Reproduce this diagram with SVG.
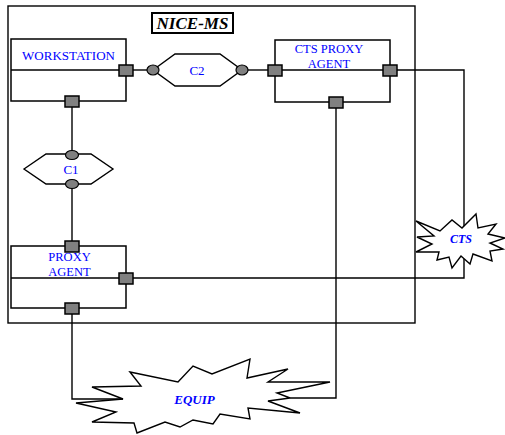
<svg xmlns="http://www.w3.org/2000/svg" width="505" height="435" viewBox="0 0 505 435">
<style>
.frame{fill:none;stroke:#000;stroke-width:1.4}
.box{fill:#fff;stroke:#000;stroke-width:1.5}
.div{stroke:#000;stroke-width:1.4}
.port{fill:#808080;stroke:#000;stroke-width:1.5}
.pin{fill:#808080;stroke:#000;stroke-width:1.2}
.hex{fill:#fff;stroke:#000;stroke-width:1.4}
.star{fill:#fff;stroke:#000;stroke-width:1.4;stroke-linejoin:miter}
.wire{fill:none;stroke:#000;stroke-width:1.4}
.lbl{font-family:"Liberation Serif",serif;font-size:13px;fill:#0000ff;text-anchor:middle}
.lbl2{font-family:"Liberation Serif",serif;font-size:12.5px;fill:#0000ff;text-anchor:middle}
.ital{font-family:"Liberation Serif",serif;font-weight:bold;font-style:italic;fill:#0000ff;text-anchor:middle}
</style>
<rect width="505" height="435" fill="#fff"/>
<g id="nice-ms">
<rect class="frame" x="8" y="6" width="407" height="317"/>
<rect x="152" y="13" width="81" height="20" fill="#fff" stroke="#000" stroke-width="2"/>
<text x="192.5" y="29" font-family="Liberation Serif,serif" font-weight="bold" font-style="italic" font-size="17" text-anchor="middle" fill="#000">NICE-MS</text>
</g>
<g id="equip">
<polygon class="star" points="130,372 178,382 193,366 212,374 250,359 247,378 288,369 268,382 330,382 277,393 290,398 268,401 300,413 248,408 250,419 220,414 213,424 193,420 180,427 165,422 137,433 134,423 92,422 116,412 76,403 123,399 92,387 141,386"/>
<text class="ital" x="194.5" y="404" font-size="13">EQUIP</text>
</g>
<g id="connectors">
<line class="wire" x1="133" y1="70" x2="147" y2="70"/>
<line class="wire" x1="248" y1="70" x2="268" y2="70"/>
<line class="wire" x1="72" y1="107" x2="72" y2="151"/>
<line class="wire" x1="72" y1="188" x2="72" y2="241"/>
<polyline class="wire" points="397,70 464,70 464,278 133,278"/>
<polyline class="wire" points="72,313 72,399 123,399"/>
<polyline class="wire" points="336,107 336,398 290,398"/>
</g>
<g id="workstation">
<rect class="box" x="11" y="39" width="115" height="62"/>
<line class="div" x1="11" y1="70" x2="126" y2="70"/>
<text class="lbl" x="68.5" y="60">WORKSTATION</text>
<rect class="port" x="119" y="65" width="14" height="11"/>
<rect class="port" x="65" y="96" width="14" height="11"/>
</g>
<g id="c2">
<polygon class="hex" points="153,70 175,54 220,54 242,70 220,86 175,86"/>
<ellipse class="pin" cx="153" cy="70" rx="6" ry="5"/>
<ellipse class="pin" cx="242" cy="70" rx="6" ry="5"/>
<text class="lbl" x="197" y="75">C2</text>
</g>
<g id="cts-proxy-agent">
<rect class="box" x="275" y="40" width="115" height="62"/>
<line class="div" x1="275" y1="70" x2="390" y2="70"/>
<text class="lbl2" x="329" y="53">CTS PROXY</text>
<text class="lbl2" x="329" y="67.5">AGENT</text>
<rect class="port" x="268" y="65" width="14" height="11"/>
<rect class="port" x="383" y="65" width="14" height="11"/>
<rect class="port" x="329" y="97" width="14" height="11"/>
</g>
<g id="c1">
<polygon class="hex" points="24,169 46,154 91,154 113,169 91,184 46,184"/>
<ellipse class="pin" cx="72" cy="155" rx="6.5" ry="4.5"/>
<ellipse class="pin" cx="72" cy="184" rx="6.5" ry="4.5"/>
<text class="lbl" x="71" y="174">C1</text>
</g>
<g id="proxy-agent">
<rect class="box" x="11" y="246" width="115" height="62"/>
<line class="div" x1="11" y1="278" x2="126" y2="278"/>
<text class="lbl2" x="69.5" y="261">PROXY</text>
<text class="lbl2" x="69.5" y="275.5">AGENT</text>
<rect class="port" x="65" y="241" width="14" height="11"/>
<rect class="port" x="119" y="273" width="14" height="11"/>
<rect class="port" x="65" y="303" width="14" height="11"/>
</g>
<g id="cts">
<polygon class="star" points="416,221 440,231 452,220 462,228 476,214 478,228 496,224 488,234 505,238 490,243 503,249 490,251 492,261 473,254 470,264 461,256 452,268 449,257 437,260 439,252 416,252 432,244 417,237 434,236"/>
<text class="ital" x="461" y="243" font-size="12">CTS</text>
</g>
</svg>
